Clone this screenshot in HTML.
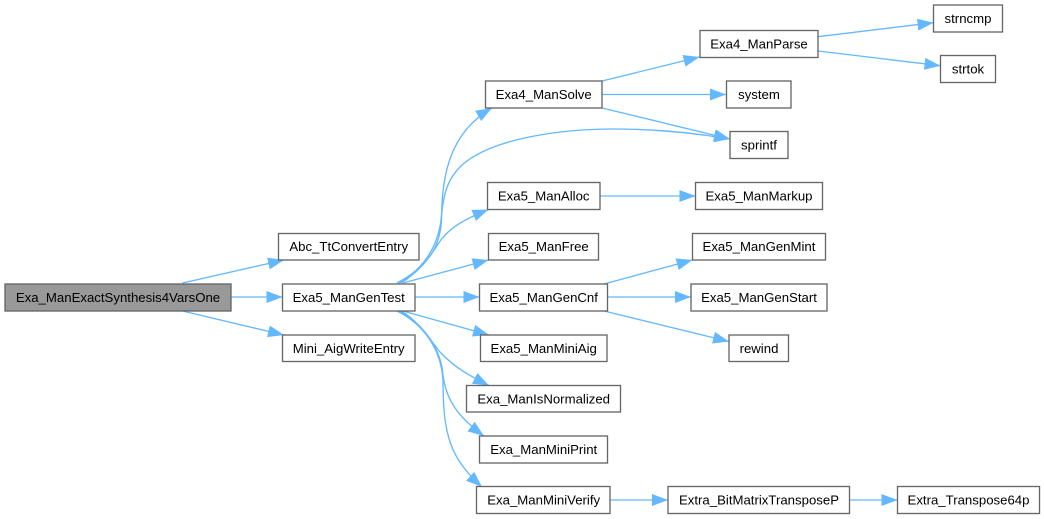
<!DOCTYPE html>
<html>
<head>
<meta charset="utf-8">
<style>
html,body{margin:0;padding:0;background:#fff;width:1044px;height:519px;overflow:hidden}
svg{display:block}
rect{fill:#fff;stroke:#666;stroke-width:1.33}
rect.root{fill:#999}
text{font-family:"Liberation Sans",Arial,sans-serif;font-size:13.2px;fill:#000;text-anchor:middle}
path{fill:none;stroke:#63b8ff;stroke-width:1.33;marker-end:url(#a)}
</style>
</head>
<body>
<svg width="1044" height="519" viewBox="0 0 1044 519" xmlns="http://www.w3.org/2000/svg">
<defs>
<marker id="a" markerUnits="userSpaceOnUse" markerWidth="18" markerHeight="14" refX="16" refY="6.5" orient="auto">
<polygon points="0,0.5 16,6.5 0,12.5" style="fill:#63b8ff;stroke:#63b8ff;stroke-width:0"/>
</marker>
</defs>

<path d="M182.5,283 L284,260"/>
<path d="M231,297 L282.5,297"/>
<path d="M182.5,311 L284,335"/>
<path d="M397,283 C425,268 440,250 441.5,220 C442,185 445,135 492,108"/>
<path d="M399,283 C425,268 438,245 441,220 C443,197 446,180 462,165 C495,136 570,129 613,129 C655,129 695,133 730,139"/>
<path d="M401,283 C420,271 430,257 438,244 C447,230 460,221 488.5,209.5"/>
<path d="M403,283 L488.5,260"/>
<path d="M415,297 L479.5,297"/>
<path d="M403,311 L489,335"/>
<path d="M401,311 C420,322 430,340 440,352 C455,368 470,376 489,385.5"/>
<path d="M399,311 C425,325 441,350 443,375 C446,400 458,417 484,436"/>
<path d="M397,311 C425,325 441,350 443,380 C443,435 450,458 482,487"/>
<path d="M602,81 L699.5,57"/>
<path d="M602,94.5 L726,94.5"/>
<path d="M602,108 L730,139"/>
<path d="M600,196 L695.5,196"/>
<path d="M604,284 L692.5,260"/>
<path d="M608,297 L691,297"/>
<path d="M604,311 L729,341.5"/>
<path d="M818,36.7 L933.5,22.7"/>
<path d="M818,51 L940.5,65.7"/>
<path d="M610,500 L668,500"/>
<path d="M850,500 L897.5,500"/>

<rect class="root" x="5" y="284" width="226" height="27"/>
<text x="118" y="302">Exa_ManExactSynthesis4VarsOne</text>
<rect x="278.5" y="233.5" width="140.5" height="26.5"/>
<text x="348.7" y="251">Abc_TtConvertEntry</text>
<rect x="282.5" y="284" width="132.5" height="27"/>
<text x="348.7" y="302">Exa5_ManGenTest</text>
<rect x="282.5" y="335" width="132.5" height="26.5"/>
<text x="348.7" y="353">Mini_AigWriteEntry</text>
<rect x="485.5" y="81" width="116.5" height="27"/>
<text x="543.7" y="99">Exa4_ManSolve</text>
<rect x="487.5" y="182.5" width="112.5" height="27"/>
<text x="543.7" y="200.5">Exa5_ManAlloc</text>
<rect x="488.5" y="233.5" width="110" height="26.5"/>
<text x="543.7" y="251">Exa5_ManFree</text>
<rect x="479.5" y="284" width="128" height="27"/>
<text x="543.7" y="302">Exa5_ManGenCnf</text>
<rect x="480.5" y="335" width="126.5" height="26.5"/>
<text x="543.7" y="353">Exa5_ManMiniAig</text>
<rect x="466.5" y="385.5" width="154" height="26.5"/>
<text x="543.7" y="403.5">Exa_ManIsNormalized</text>
<rect x="479.5" y="436" width="128" height="27"/>
<text x="543.7" y="454">Exa_ManMiniPrint</text>
<rect x="476.5" y="486.5" width="133.5" height="27"/>
<text x="543.7" y="504.5">Exa_ManMiniVerify</text>
<rect x="700" y="30.5" width="118" height="27"/>
<text x="759" y="48.5">Exa4_ManParse</text>
<rect x="726.5" y="81" width="64.5" height="27"/>
<text x="759" y="99">system</text>
<rect x="730" y="131.5" width="58" height="27"/>
<text x="759" y="149.5">sprintf</text>
<rect x="695.5" y="182.5" width="127" height="27"/>
<text x="759" y="200.5">Exa5_ManMarkup</text>
<rect x="692.5" y="233.5" width="133" height="26.5"/>
<text x="759" y="251">Exa5_ManGenMint</text>
<rect x="691" y="284" width="136" height="27"/>
<text x="759" y="302">Exa5_ManGenStart</text>
<rect x="729" y="335" width="59.5" height="26.5"/>
<text x="759" y="353">rewind</text>
<rect x="668" y="486.5" width="181.5" height="27"/>
<text x="759" y="504.5">Extra_BitMatrixTransposeP</text>
<rect x="933.5" y="5" width="69" height="27"/>
<text x="968" y="23">strncmp</text>
<rect x="940.5" y="55.5" width="55" height="27"/>
<text x="968" y="73.5">strtok</text>
<rect x="897.5" y="486.5" width="142" height="27"/>
<text x="968.5" y="504.5">Extra_Transpose64p</text>
</svg>
</body>
</html>
